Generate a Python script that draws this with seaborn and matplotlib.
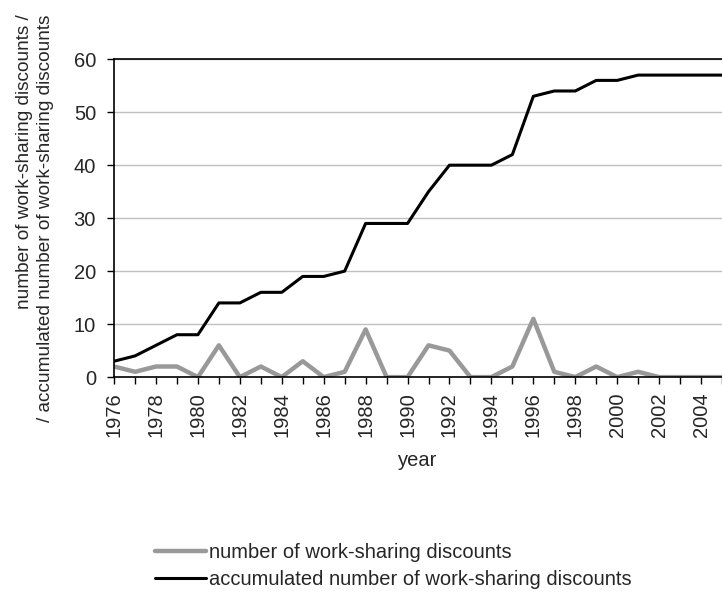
import pandas as pd
import numpy as np
import seaborn as sns
import matplotlib.pyplot as plt

# yearly values
years = list(range(1976, 2006))
discounts = [2, 1, 2, 2, 0, 6, 0, 2, 0, 3, 0, 1, 9, 0, 0,
             6, 5, 0, 0, 2, 11, 1, 0, 2, 0, 1, 0, 0, 0, 0]
accumulated = [3, 4, 6, 8, 8, 14, 14, 16, 16, 19, 19, 20, 29, 29, 29,
               35, 40, 40, 40, 42, 53, 54, 54, 56, 56, 57, 57, 57, 57, 57]
series_names = ['number of work-sharing discounts',
                'accumulated number of work-sharing discounts']

df = pd.DataFrame({'year': years, series_names[0]: discounts, series_names[1]: accumulated})
long_df = df.melt(id_vars='year', var_name='series', value_name='value')

sns.set_style('white')
plt.rcParams['font.family'] = ['Liberation Sans', 'DejaVu Sans']
fs = 14.5

fig = plt.figure(figsize=(7.22, 5.92), dpi=100)
ax = fig.add_axes([0.158, 0.363, 0.842, 0.537])

sns.lineplot(data=long_df, x='year', y='value', hue='series', ax=ax,
             palette=['#999999', '#000000'], legend=False)
ax.lines[0].set_linewidth(3.2)
ax.lines[1].set_linewidth(2.2)

ax.set_xlim(1976, 2005)
ax.set_ylim(0, 60)
ax.set_yticks(range(0, 61, 10))
ax.set_xticks(years, minor=True)
ax.set_xticks(range(1976, 2005, 2))
ax.set_xticklabels([str(y) for y in range(1976, 2005, 2)], rotation=90)
ax.tick_params(axis='both', which='both', direction='out', length=5, width=1,
               color='black', bottom=True, left=True, labelsize=fs)
ax.tick_params(axis='x', which='major', pad=6)
ax.tick_params(axis='y', which='major', pad=8)
ax.yaxis.grid(True, color='#c0c0c0', linewidth=1)
ax.set_axisbelow(True)
for s in ['left', 'bottom', 'top']:
    ax.spines[s].set_color('black')
    ax.spines[s].set_linewidth(1.2)
ax.spines['right'].set_visible(False)

ax.set_xlabel('year', fontsize=fs, labelpad=10)
ax.set_ylabel('number of work-sharing discounts /\n/ accumulated number of work-sharing discounts',
              fontsize=13.7, labelpad=14, multialignment='right', linespacing=1.3)

handles = [plt.Line2D([], [], color='#999999', lw=3.2),
           plt.Line2D([], [], color='#000000', lw=2.2)]
fig.legend(handles, series_names, loc='upper left', bbox_to_anchor=(0.215, 0.083),
           frameon=False, fontsize=fs, handlelength=2.5, handletextpad=0.15,
           labelspacing=0.4, borderaxespad=0, borderpad=0)

fig.savefig('out.png', dpi=100)
